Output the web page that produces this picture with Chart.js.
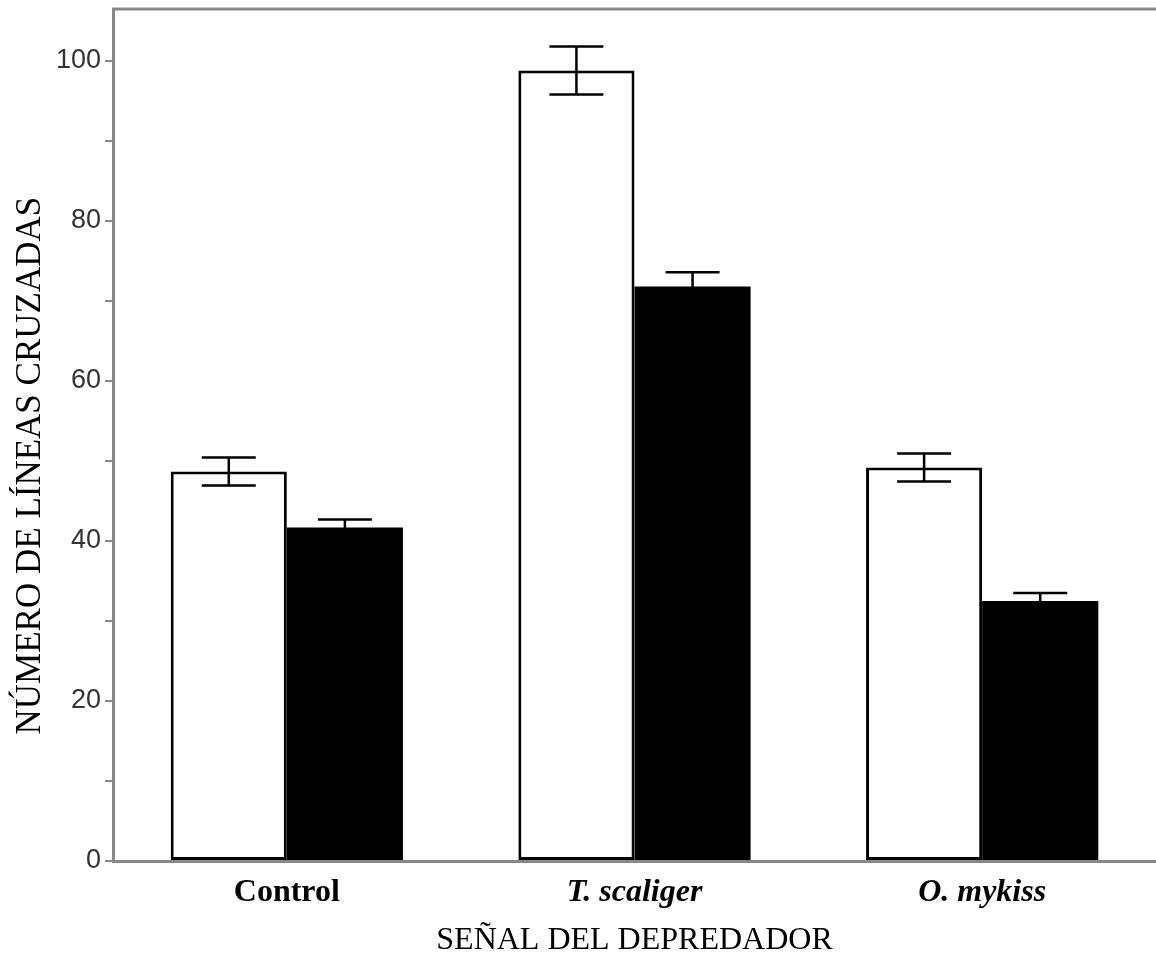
<!DOCTYPE html>
<html>
<head>
<meta charset="utf-8">
<script src="https://cdn.jsdelivr.net/npm/chart.js"></script>
<style>
  body { margin: 0; background: #fff; }
</style>
</head>
<body>
<canvas id="lineas" width="1156" height="968"></canvas>
<script>
const categories = ["Control", "T. scaliger", "O. mykiss"];
const openValues = [48.7, 98.8, 49.2];
const openErrors = [1.75, 3.0, 1.75];
const filledValues = [41.7, 71.8, 32.5];
const filledErrors = [1.0, 1.8, 1.0];
const yTicks = [0, 10, 20, 30, 40, 50, 60, 70, 80, 90, 100];

// error bars from the y scale
const errorBars = {
  id: "errorBars",
  afterDatasetsDraw(chart) {
    const ctx = chart.ctx;
    const y = chart.scales.y;
    ctx.save();
    ctx.strokeStyle = "#000";
    ctx.lineWidth = 2.5;
    chart.data.datasets.forEach((ds, i) => {
      chart.getDatasetMeta(i).data.forEach((bar, j) => {
        const top = y.getPixelForValue(ds.data[j] + ds.errors[j]);
        const bot = y.getPixelForValue(ds.data[j] - ds.errors[j]);
        const half = 27;
        ctx.beginPath();
        ctx.moveTo(bar.x, top);
        ctx.lineTo(bar.x, bot);
        ctx.moveTo(bar.x - half, top);
        ctx.lineTo(bar.x + half, top);
        ctx.moveTo(bar.x - half, bot);
        ctx.lineTo(bar.x + half, bot);
        ctx.stroke();
      });
    });
    ctx.restore();
  }
};

const frame = {
  id: "frame",
  afterDraw(chart) {
    const { left, right, top } = chart.chartArea;
    const ctx = chart.ctx;
    ctx.save();
    ctx.strokeStyle = "#888";
    ctx.lineWidth = 3;
    ctx.beginPath();
    ctx.moveTo(left - 1, top);
    ctx.lineTo(right, top);
    ctx.stroke();
    ctx.restore();
  }
};

new Chart(document.getElementById("lineas"), {
  type: "bar",
  data: {
    labels: categories,
    datasets: [
      {
        data: openValues,
        errors: openErrors,
        backgroundColor: "#fff",
        borderColor: "#000",
        borderWidth: 3,
        borderSkipped: false
      },
      {
        data: filledValues,
        errors: filledErrors,
        backgroundColor: "#000",
        borderColor: "#000",
        borderWidth: 0
      }
    ]
  },
  options: {
    responsive: false,
    animation: false,
    categoryPercentage: 0.668,
    barPercentage: 1.0,
    layout: { padding: { top: 9, right: 0, left: 0, bottom: 0 } },
    plugins: { legend: { display: false }, tooltip: { enabled: false } },
    scales: {
      x: {
        grid: { display: false },
        border: { color: "#888", width: 3 },
        ticks: {
          padding: 5,
          color: "#000",
          font: (c) => ({
            family: "Liberation Serif",
            size: 32,
            weight: "bold",
            style: c.index === 0 ? "normal" : "italic"
          })
        },
        title: {
          display: true,
          text: "SEÑAL DEL DEPREDADOR",
          color: "#000",
          font: { family: "Liberation Serif", size: 32 },
          padding: { top: 0, bottom: 8 }
        },
        afterFit(s) { s.height = 107; }
      },
      y: {
        min: 0,
        max: 106.5,
        afterBuildTicks(s) { s.ticks = yTicks.map(v => ({ value: v })); },
        grid: { drawOnChartArea: false, drawTicks: true, tickLength: 8, color: "#888", lineWidth: 2 },
        border: { color: "#888", width: 3 },
        ticks: {
          padding: 4,
          color: "#333",
          font: { family: "Liberation Sans", size: 27, lineHeight: 0.2 },
          callback: (v) => (v % 20 === 0 ? v : "")
        },
        title: {
          display: true,
          text: "NÚMERO DE LÍNEAS CRUZADAS       ",
          color: "#000",
          font: { family: "Liberation Serif", size: 35 },
          padding: { top: 10, bottom: 0 }
        },
        afterFit(s) { s.width = 113; }
      }
    }
  },
  plugins: [errorBars, frame]
});
</script>
</body>
</html>
